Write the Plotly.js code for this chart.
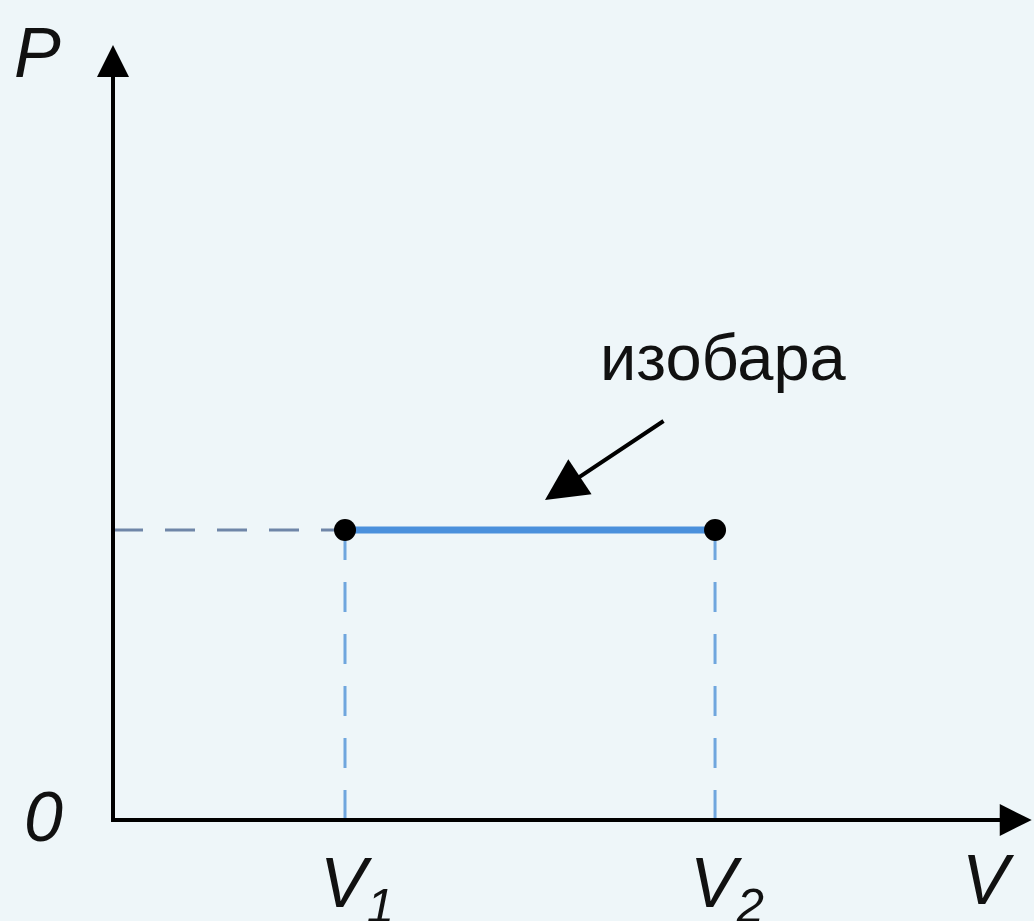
<!DOCTYPE html>
<html>
<head>
<meta charset="utf-8">
<script src="https://cdn.plot.ly/plotly-3.0.1.min.js"></script>
<style>html,body{margin:0;padding:0;background:#eef6f9;}#chart{width:1034px;height:921px;}</style>
</head>
<body>
<div id="chart"></div>
<script>
// Conceptual values (arbitrary units)
const volumes = [2.0, 5.19];     // V1, V2
const pressures = [2.5, 2.5];    // P (isobaric)
const volumeLabels = ['V<sub>1</sub>', 'V<sub>2</sub>'];
const processLabel = 'изобара';

const V1 = volumes[0], V2 = volumes[1], P = pressures[0];
const xMax = 7.92, yMax = 6.68;

const traces = [
  // horizontal dashed guide from P axis to V1
  {x: [0, V1], y: [P, P], mode: 'lines', line: {color: '#6f86a8', width: 3, dash: '30px,22px'}, hoverinfo: 'skip'},
  // vertical dashed guides
  {x: [V1, V1], y: [0, P], mode: 'lines', line: {color: '#6fa6de', width: 3, dash: '30px,22px'}, hoverinfo: 'skip'},
  {x: [V2, V2], y: [0, P], mode: 'lines', line: {color: '#6fa6de', width: 3, dash: '30px,22px'}, hoverinfo: 'skip'},
  // isobar
  {x: volumes, y: pressures, mode: 'lines', line: {color: '#4a90dc', width: 7}, hoverinfo: 'skip'},
  {x: volumes, y: pressures, mode: 'markers', marker: {color: '#000', size: 22}, hoverinfo: 'skip'}
];

const fontLbl = {family: 'Liberation Sans, Arial, sans-serif', size: 70, color: '#111'};

const annotations = [
  // axes with arrows
  {x: xMax, y: 0, ax: -0.03, ay: 0, xref: 'x', yref: 'y', axref: 'x', ayref: 'y', text: '', showarrow: true,
   arrowhead: 2, arrowsize: 1.6, arrowwidth: 4, arrowcolor: '#000', standoff: 0},
  {x: 0, y: yMax, ax: 0, ay: -0.02, xref: 'x', yref: 'y', axref: 'x', ayref: 'y', text: '', showarrow: true,
   arrowhead: 2, arrowsize: 1.6, arrowwidth: 4, arrowcolor: '#000', standoff: 0},
  // axis labels
  {x: -0.655, y: 6.61, xref: 'x', yref: 'y', text: '<i>P</i>', showarrow: false, font: fontLbl},
  {x: -0.6, y: 0.03, xref: 'x', yref: 'y', text: '<i>0</i>', showarrow: false, font: fontLbl},
  {x: 7.55, y: -0.52, xref: 'x', yref: 'y', text: '<i>V</i>', showarrow: false, font: fontLbl},
  {x: V1 + 0.1, y: -0.59, xref: 'x', yref: 'y', text: '<i>' + volumeLabels[0] + '</i>', showarrow: false, font: fontLbl},
  {x: V2 + 0.1, y: -0.59, xref: 'x', yref: 'y', text: '<i>' + volumeLabels[1] + '</i>', showarrow: false, font: fontLbl},
  // process label with arrow
  {x: 5.26, y: 3.99, xref: 'x', yref: 'y', text: processLabel, showarrow: false,
   font: {family: 'Liberation Sans, Arial, sans-serif', size: 65, color: '#111'}},
  {x: 3.724, y: 2.759, ax: 4.759, ay: 3.448, xref: 'x', yref: 'y', axref: 'x', ayref: 'y', text: '',
   showarrow: true, arrowhead: 2, arrowsize: 2.1, arrowwidth: 4, arrowcolor: '#000', standoff: 0}
];

const layout = {
  width: 1034, height: 921,
  margin: {l: 0, r: 0, t: 0, b: 0},
  paper_bgcolor: '#eef6f9', plot_bgcolor: '#eef6f9',
  showlegend: false,
  xaxis: {range: [-113/116, 921/116], visible: false, fixedrange: true},
  yaxis: {range: [-101/116, 820/116], visible: false, fixedrange: true},
  annotations: annotations
};

Plotly.newPlot('chart', traces, layout, {displayModeBar: false, staticPlot: true});
</script>
</body>
</html>
